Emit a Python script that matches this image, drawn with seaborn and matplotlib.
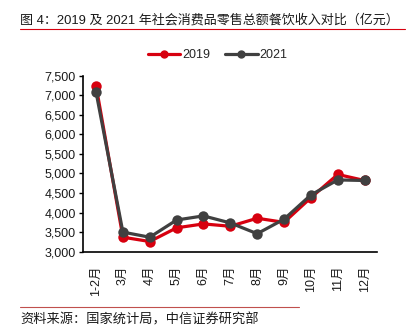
import matplotlib
matplotlib.use("Agg")
import matplotlib.pyplot as plt
from matplotlib.lines import Line2D
import seaborn as sns
import pandas as pd

months = ["1-2月", "3月", "4月", "5月", "6月", "7月", "8月", "9月", "10月", "11月", "12月"]
v2019 = [7240, 3370, 3260, 3610, 3710, 3650, 3855, 3750, 4380, 4975, 4820]
v2021 = [7080, 3500, 3370, 3810, 3915, 3735, 3460, 3830, 4450, 4835, 4820]
series = ["2019", "2021"]
colors = ["#D7000F", "#404040"]
yticks = list(range(3000, 7501, 500))

sns.set_theme(style="white")
plt.rcParams["font.family"] = ["Liberation Sans", "Noto Sans CJK SC", "DejaVu Sans"]

df = pd.DataFrame({
    "month": months * 2,
    "value": v2019 + v2021,
    "year": [series[0]] * len(months) + [series[1]] * len(months),
})

fig = plt.figure(figsize=(4.07, 3.29), dpi=100)
ax = fig.add_axes([0.203, 0.235, 0.7225, 0.535])
sns.lineplot(data=df, x="month", y="value", hue="year", palette=colors,
             marker="o", markersize=7.5, linewidth=2.3, markeredgewidth=0,
             sort=False, legend=False, ax=ax)

ax.set_ylim(3000, 7500)
ax.set_yticks(yticks)
ax.set_yticklabels([f"{t:,}" for t in yticks], fontsize=9, color="#1a1a1a")
ax.set_xlim(-0.5, len(months) - 0.55)
ax.set_xticks(range(len(months)))
ax.set_xticklabels(months, rotation=90, fontsize=9, color="#1a1a1a")
ax.set_xlabel("")
ax.set_ylabel("")
for s in ["top", "right"]:
    ax.spines[s].set_visible(False)
for s in ["left", "bottom"]:
    ax.spines[s].set_color("black")
    ax.spines[s].set_linewidth(1.2)
ax.tick_params(axis="y", which="both", left=True, length=3, width=1, pad=2, color="black")
ax.tick_params(axis="x", which="both", bottom=False, pad=4)

handles = [Line2D([0], [0], color=c, lw=2.3, marker="o", markersize=5) for c in colors]
fig.legend(handles, series, loc="center", bbox_to_anchor=(0.535, 0.833), ncol=2,
           frameon=False, fontsize=9, handlelength=2.6, columnspacing=1.2, handletextpad=0.15)

fig.text(0.05, 0.938, "图 4：2019 及 2021 年社会消费品零售总额餐饮收入对比（亿元）",
         fontsize=9.4, va="center", ha="left", color="#1a1a1a")
fig.add_artist(Line2D([0.05, 0.995], [0.912, 0.912], color="#D7000F", lw=0.8, transform=fig.transFigure))
fig.add_artist(Line2D([0.05, 0.735], [0.067, 0.067], color="#C0504D", lw=0.8, transform=fig.transFigure))
fig.text(0.05, 0.027, "资料来源：国家统计局，中信证券研究部",
         fontsize=9.5, va="center", ha="left", color="#1a1a1a")

fig.savefig("out.png", dpi=100)
